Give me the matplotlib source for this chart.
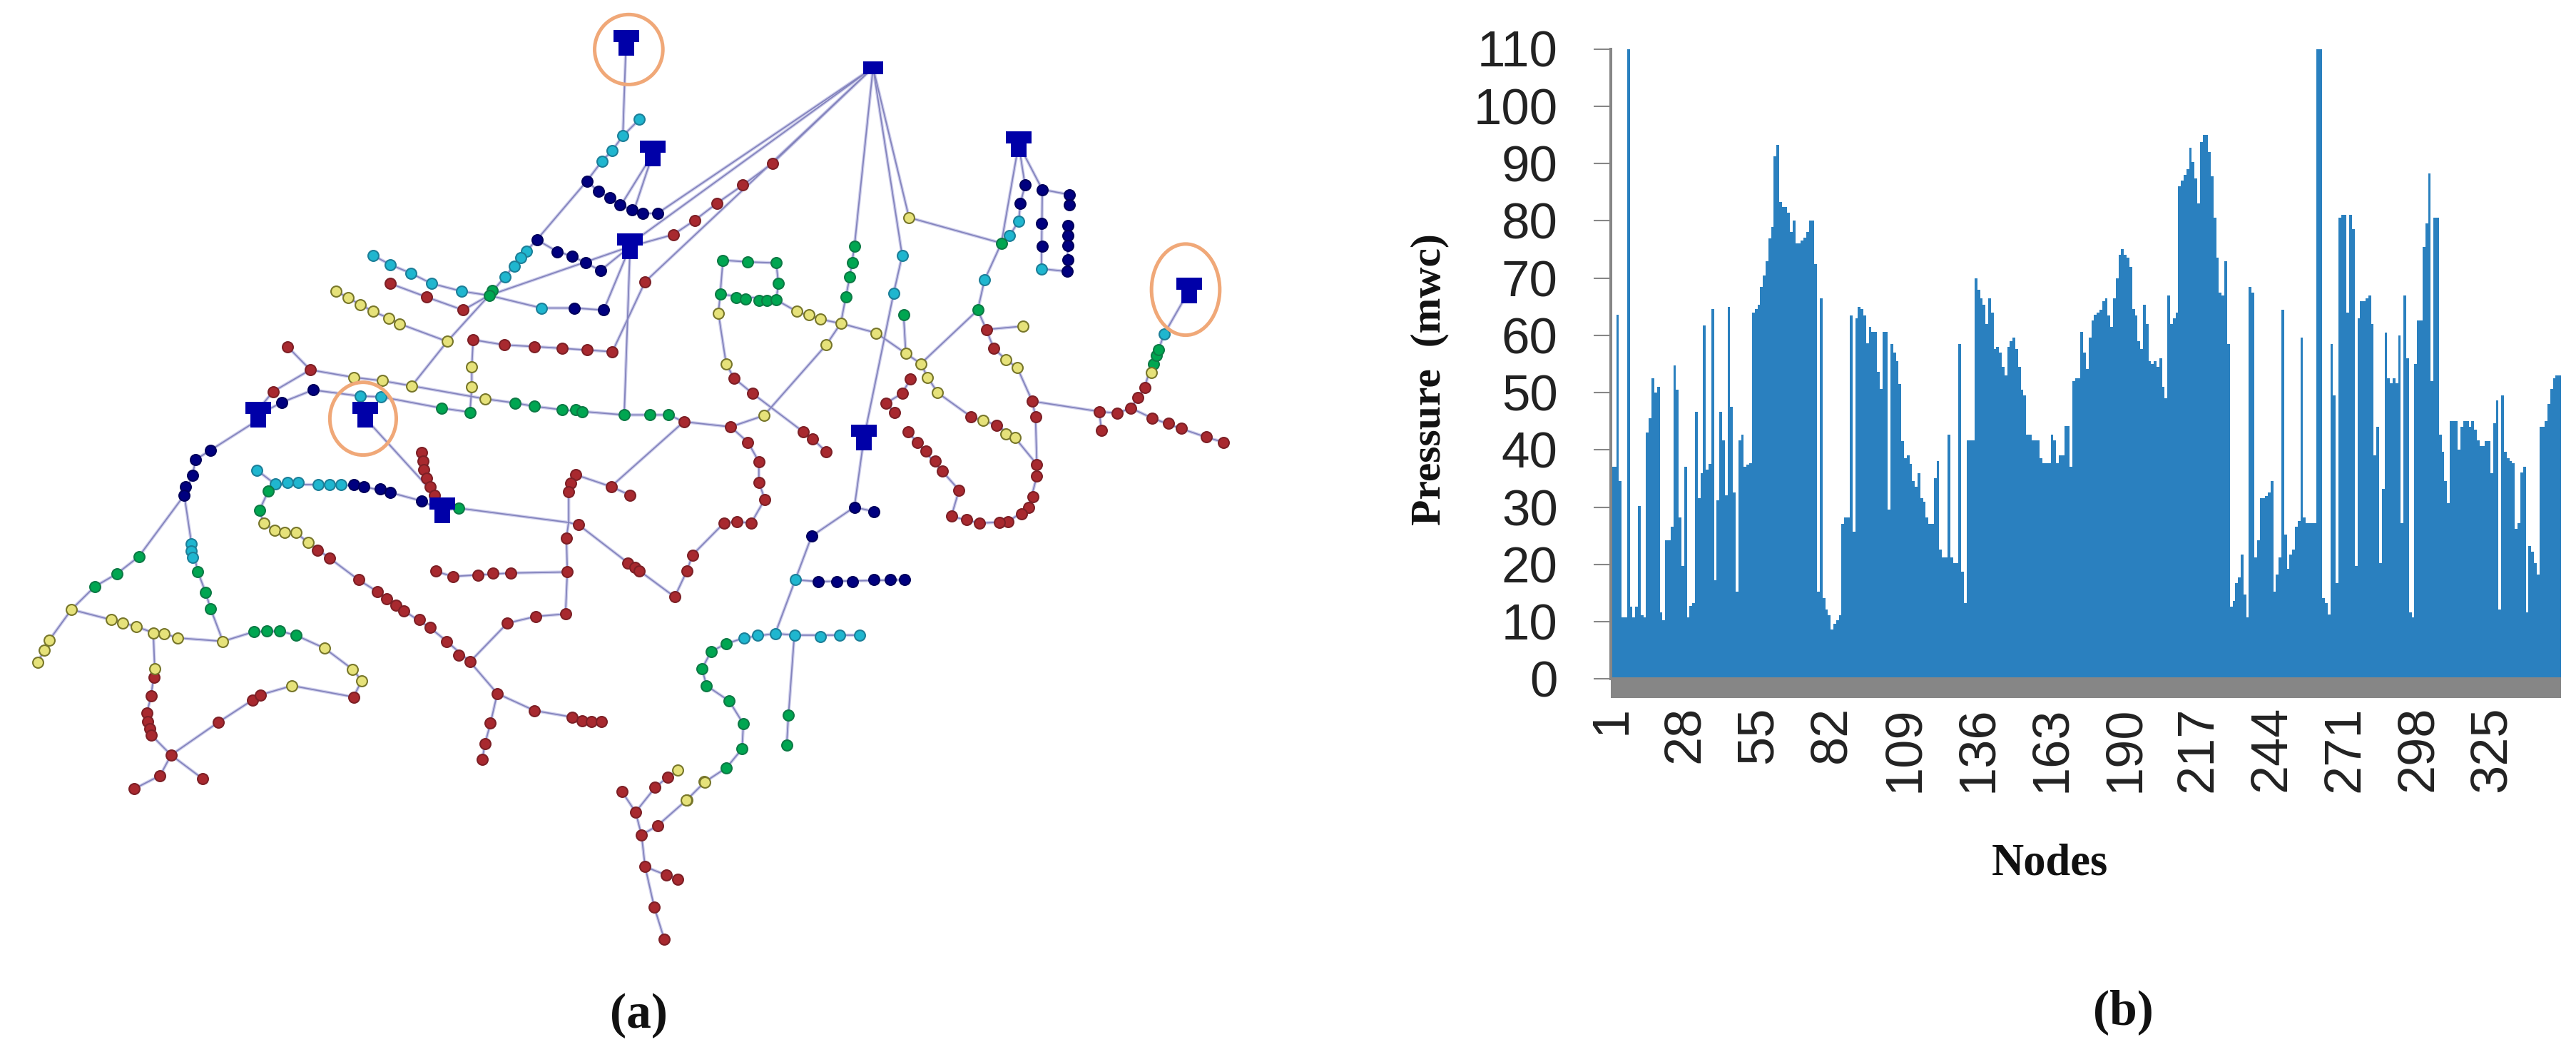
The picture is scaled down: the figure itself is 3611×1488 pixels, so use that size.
import numpy as np
import matplotlib
matplotlib.use("Agg")
import matplotlib.pyplot as plt
from matplotlib.patches import Ellipse
from matplotlib.path import Path


W, H = 3612, 1488

# ── panel (b): pressure per node ─────────────────────────────────────────────
pressure_a = [37.1, 37.1, 63.6, 34.6, 10.8, 10.8, 110, 12.7, 10.8, 12.7,
              30.2, 11.2, 10.8, 43, 45.5, 52.5, 50, 51, 11.7, 10.3,
              24.2, 24.2, 26.6, 54.7, 50.5, 28.2, 19.8, 37.1, 10.8, 12.8,
              13.3, 46.6, 31.6, 36, 61.7, 36.6, 37.5, 64.6, 17.3, 31.2,
              46.6, 41.7, 32.1, 65, 47.5, 32.6, 15.2, 41.7, 42.7, 37.1,
              37.4, 37.7, 64, 64.6, 65.4, 68.5, 70.4, 72.9, 76.9, 78.9,
              91.3, 93.3, 83.3, 82.4, 82.4, 81.4, 78, 80, 76, 76,
              76.5, 77, 78, 80, 80, 72.4, 15.2, 66.5, 14.2, 12.2,
              11.2, 8.7, 9.7, 10.3, 11.2, 27.1, 28.2]
pressure_b = [28.2, 63.5, 25.7, 63, 65, 64.6, 63.5, 58.6, 61.5, 60.6,
              60.6, 53.6, 50.6, 60.6, 60.6, 29.6, 58.5, 57, 55.5, 51.5,
              41.6, 38.6, 39.1, 37.5, 34.6, 33.6, 36, 31.6, 31, 28.2,
              27.1, 27.1, 35.1, 38, 22.6, 21.2, 21.2, 42.7, 21.2, 20.2,
              20.2, 58.5, 18.7, 13.3, 41.7, 41.7, 41.7, 70, 68, 66.5,
              65.4, 62, 66.5, 64, 57.6, 58, 57, 54.5, 53, 58,
              59, 59.6, 57.6, 54.5, 50.5, 49.5, 42.7, 42.7, 41.7, 41.7,
              41.7, 38.6, 37.7, 37.7, 37.7, 42.7, 41.7, 37.7, 39.1, 39.1,
              44.1, 44.1, 37.1, 52, 52.5, 52.5, 60.6, 57, 54.1]
pressure_c = [59.6, 62.6, 63.6, 64, 64.5, 66, 66.5, 63.5, 61.5, 66.5,
              70, 74, 75, 74, 73.5, 72, 64.6, 63.5, 59, 57.6,
              65.4, 62, 55.5, 55, 55.5, 54.5, 56, 51, 49, 67,
              62, 63, 64, 86, 87, 88, 89, 92.8, 90.3, 87.4,
              83, 93.8, 95, 95, 92, 87.8, 80.5, 73.5, 67.5, 67,
              73, 58.5, 12.7, 13.7, 16.7, 17.8, 21.8, 14.7, 10.8, 68.5,
              67.5, 21.2, 24.2, 31.6, 31.6, 32, 32.6, 34.6, 15.2, 18.2,
              21.2, 64.5, 25.2, 19.3, 21.8, 22.6, 26.6, 27.6, 59.6, 28.2,
              27.2, 27.2, 27.2, 27.2, 110, 110, 14.2]
pressure_d = [13.3, 11.3, 58.5, 49.5, 16.7, 80.6, 81, 81, 64, 81,
              78.5, 19.8, 63, 66, 66, 66.5, 67, 62, 39, 44,
              20.2, 33.2, 60.5, 52.5, 51.6, 52.5, 51.6, 60, 27.2, 67,
              56, 11.7, 10.8, 55, 62.6, 62.6, 75.4, 79.5, 88.3, 52,
              80.5, 80.5, 42.7, 39.7, 34.6, 30.7, 45, 45, 45, 40,
              44, 45, 45, 44, 45, 43.5, 41.7, 40.7, 40.7, 41.6,
              41.6, 36, 44.7, 48.6, 12.2, 49.5, 39.7, 38.6, 38.1, 37.7,
              26.2, 27.2, 36.1, 37.1, 11.7, 23.2, 22.2, 20.2, 18.2, 44,
              44, 45, 48, 50.6, 52.5, 53, 53]
pressure = pressure_a + pressure_b + pressure_c + pressure_d
nodes = np.arange(1, len(pressure) + 1)
node_ticks = [1, 28, 55, 82, 109, 136, 163, 190, 217, 244, 271, 298, 325]
pressure_ticks = list(range(0, 120, 10))

# ── panel (a): network map. Nodes are kept per quarter of the map ────────────
SHIFT_X, SHIFT_Y = 1411, 1463
SCALE_X, SCALE_Y = 1.568, 2.09

red_tl = [(857, 830), (938, 870), (1018, 908), (1040, 995), (1108, 1010), (1175, 1015), (1235, 1020),
          (1290, 1025), (1346, 1030), (1418, 825), (1480, 687), (1527, 645), (632, 1015), (682, 1083),
          (600, 1147), (1503, 1235), (927, 1325), (930, 1350), (932, 1375), (937, 1400), (945, 1425),
          (955, 1450), (1265, 1390), (1255, 1415), (1250, 1440), (1343, 1425), (1385, 1450), (1272, 1537)]
red_tr = [(287, 478), (222, 542), (165, 595), (195, 1250), (233, 1295), (257, 1352), (257, 1412), (270, 1462),
          (240, 1532), (208, 1527), (180, 1532), (202, 1107), (243, 1152), (355, 1265), (375, 1285), (405, 1323),
          (757, 965), (773, 1020), (858, 1175), (865, 1220), (1005, 1205), (1045, 1210), (1010, 1260),
          (1075, 1195), (1090, 1165), (1105, 1135), (1122, 1225), (1157, 1240), (1185, 1255), (1240, 1280),
          (1278, 1295), (868, 1360), (868, 1395), (860, 1455), (850, 1485), (835, 1505), (805, 1528),
          (785, 1530), (742, 1532), (713, 1522), (680, 1512), (697, 1435), (660, 1380), (645, 1350),
          (625, 1320), (605, 1295), (585, 1265), (590, 1110), (572, 1152), (537, 1180), (555, 1208),
          (723, 1220), (780, 1245)]
red_bl = [(338, 520), (332, 575), (323, 625), (325, 650), (330, 670), (333, 690), (376, 748), (352, 808),
          (295, 847), (445, 817), (480, 652), (555, 587), (572, 572), (777, 578), (698, 148), (725, 172),
          (788, 235), (830, 270), (850, 290), (870, 310), (887, 325), (922, 352), (945, 375), (982, 415),
          (1008, 455), (1033, 475), (1093, 568), (1175, 618), (1258, 637), (1280, 648), (1300, 650),
          (1322, 650), (1078, 655), (1066, 715), (1060, 760), (1115, 362), (1178, 342), (1243, 335),
          (1247, 212), (958, 210), (995, 225), (1050, 222), (1083, 215), (1123, 215), (1245, 112),
          (1380, 185), (1395, 198), (1405, 208), (1483, 285), (1510, 208), (1522, 162), (1367, 855),
          (1397, 915), (1410, 982), (1440, 843), (1468, 812), (1445, 955), (1418, 1075), (1465, 1100),
          (1490, 1112), (1438, 1193), (1460, 1287)]

navy_tl = [(1290, 530), (1315, 560), (1340, 578), (1363, 600), (1390, 615), (1412, 625), (1445, 625),
           (1180, 702), (1225, 737), (1258, 750), (1287, 770), (1320, 792), (1262, 902), (1327, 908),
           (688, 1142), (620, 1178), (463, 1318), (430, 1346), (423, 1392), (408, 1425), (405, 1450),
           (777, 1420), (800, 1425), (835, 1432), (857, 1442), (927, 1467)]
navy_tr = [(842, 542), (832, 595), (880, 555), (940, 570), (940, 600), (878, 655), (880, 722), (937, 660),
           (937, 690), (937, 720), (937, 760), (935, 795), (467, 1485), (510, 1498)]
navy_br = [(373, 107), (388, 240), (428, 240), (463, 240), (510, 235), (546, 235), (578, 235)]

cyan_tl = [(1405, 350), (1369, 398), (1346, 440), (1323, 472), (1157, 735), (1145, 755), (1130, 780),
           (1110, 810), (820, 748), (858, 775), (903, 800), (948, 830), (1015, 853), (1190, 902),
           (792, 1160), (838, 1162), (565, 1377), (605, 1418), (632, 1412), (655, 1412), (700, 1420),
           (725, 1420), (750, 1420)]
cyan_tr = [(572, 748), (553, 860), (828, 648), (808, 690), (753, 820), (878, 787), (1148, 978)]
cyan_bl = [(421, 130), (421, 150), (423, 170)]
cyan_br = [(337, 235), (225, 405), (255, 397), (293, 392), (335, 397), (392, 402), (435, 397), (478, 397)]

green_tl = [(1082, 850), (1075, 865), (970, 1195), (1033, 1207), (1132, 1180), (1175, 1190), (1235, 1200),
            (1265, 1200), (1280, 1205), (1372, 1215), (1428, 1215), (1470, 1215), (590, 1437), (570, 1495),
            (1008, 1488)]
green_tr = [(178, 762), (233, 767), (295, 770), (300, 830), (172, 862), (207, 872), (228, 875), (258, 880),
            (275, 880), (295, 878), (467, 722), (462, 770), (457, 810), (448, 870), (575, 922), (790, 712),
            (738, 908), (1125, 1065), (1130, 1040), (1135, 1025)]
green_bl = [(305, 167), (257, 217), (208, 255), (435, 212), (452, 272), (463, 320), (558, 387), (587, 385),
            (615, 385), (650, 397)]
green_br = [(185, 422), (152, 445), (132, 495), (142, 545), (192, 590), (223, 657), (220, 730), (186, 785),
            (322, 632), (318, 720)]

yellow_tl = [(738, 852), (765, 872), (792, 892), (820, 912), (855, 932), (878, 948), (983, 1000), (1037, 1075),
             (1037, 1132), (1066, 1168), (905, 1130), (840, 1115), (777, 1105)]
yellow_tr = [(587, 637), (168, 917), (185, 1065), (340, 912), (367, 922), (392, 935), (437, 947), (515, 975),
             (405, 1010), (268, 1217), (580, 1035), (613, 1065), (628, 1105), (650, 1150), (750, 1230),
             (800, 1270), (820, 1282), (838, 955), (800, 1053), (825, 1077), (1120, 1090)]
yellow_bl = [(108, 412), (97, 440), (83, 477), (157, 322), (245, 352), (270, 362), (300, 372), (337, 390),
             (360, 392), (390, 405), (490, 415), (340, 495), (713, 435), (775, 497), (795, 530), (642, 545),
             (580, 70), (603, 90), (625, 97), (650, 97), (677, 125), (1490, 793), (1510, 880), (1548, 825)]
yellow_br = [(138, 827), (98, 880)]

tanks = [(1376, 125), (1435, 450), (1385, 722), (567, 1215), (803, 1215), (972, 1495),
         (2239, 422), (2614, 850), (1899, 1282)]
reservoir = [(1919, 198)]
highlights = [(1382, 145, 150, 205), (798, 1226, 146, 213), (2606, 848, 150, 267)]

pipes = [
    [(1376, 125), (1369, 398)],
    [(1405, 350), (1369, 398), (1346, 440), (1323, 472), (1290, 530), (1180, 702), (1157, 735), (1110, 810),
     (1075, 865), (983, 1000), (905, 1130)],
    [(1290, 530), (1315, 560), (1340, 578), (1363, 600), (1390, 615), (1412, 625), (1445, 625), (1919, 198)],
    [(1435, 450), (1370, 590)], [(1435, 450), (1395, 610)],
    [(1919, 198), (1400, 700)],
    [(1919, 198), (1698, 478), (1633, 542), (1576, 595), (1527, 645), (1480, 687), (1385, 722)],
    [(1919, 198), (1418, 825), (1346, 1030)],
    [(1385, 722), (1320, 792), (1287, 770), (1258, 750), (1225, 737), (1180, 702)],
    [(1385, 722), (1075, 865)],
    [(1385, 722), (1327, 908), (1262, 902), (1190, 902), (1075, 865), (1015, 853), (948, 830), (903, 800),
     (858, 775), (820, 748)],
    [(1385, 722), (1372, 1215)],
    [(857, 830), (938, 870), (1018, 908), (1075, 865)],
    [(738, 852), (765, 872), (792, 892), (820, 912), (855, 932), (878, 948), (983, 1000)],
    [(1040, 995), (1108, 1010), (1175, 1015), (1235, 1020), (1290, 1025), (1346, 1030)],
    [(1040, 995), (1037, 1075), (1037, 1132), (1033, 1207)],
    [(838, 1162), (970, 1195), (1033, 1207)],
    [(905, 1130), (1066, 1168), (1132, 1180), (1175, 1190), (1235, 1200), (1280, 1205), (1372, 1215), (1428, 1215),
     (1470, 1215), (1503, 1235), (1606, 1250), (1679, 1217), (1816, 1010), (1848, 947)],
    [(682, 1083), (777, 1105), (840, 1115), (905, 1130)],
    [(632, 1015), (682, 1083), (600, 1147), (567, 1200)],
    [(567, 1215), (620, 1178), (688, 1142), (792, 1160), (838, 1162)],
    [(567, 1230), (463, 1318), (430, 1346), (423, 1392), (405, 1450), (305, 1630), (257, 1680), (208, 1718),
     (157, 1785), (108, 1875), (83, 1940)],
    [(405, 1450), (421, 1593), (435, 1675), (452, 1735), (463, 1783), (490, 1878)],
    [(157, 1785), (245, 1815), (300, 1835), (337, 1853), (360, 1855), (390, 1868), (490, 1878), (558, 1850),
     (615, 1848), (650, 1860), (713, 1898), (775, 1960), (795, 1993), (777, 2041), (642, 2008), (572, 2035),
     (555, 2050), (480, 2115), (376, 2211), (352, 2271), (295, 2310)],
    [(376, 2211), (445, 2280)],
    [(337, 1853), (340, 1958), (332, 2038), (323, 2088), (333, 2153), (376, 2211)],
    [(803, 1225), (950, 1440)],
    [(927, 1325), (955, 1450), (972, 1495)],
    [(565, 1377), (605, 1418), (750, 1420), (800, 1425), (857, 1442), (927, 1467), (972, 1495)],
    [(605, 1418), (590, 1437), (570, 1495), (580, 1533), (603, 1553), (650, 1560), (677, 1588), (725, 1635),
     (788, 1698), (830, 1733), (887, 1788), (945, 1838), (982, 1878), (1033, 1938), (1093, 2031), (1175, 2081),
     (1258, 2100), (1322, 2113)],
    [(1093, 2031), (1078, 2118), (1066, 2178), (1060, 2223)],
    [(1033, 1938), (1115, 1825), (1178, 1805), (1243, 1798), (1247, 1675), (1245, 1575), (1250, 1527),
     (1250, 1440), (1265, 1390), (1343, 1425), (1385, 1450)],
    [(1343, 1425), (1503, 1235)],
    [(958, 1673), (995, 1688), (1123, 1678), (1247, 1675)],
    [(972, 1495), (1008, 1488), (1250, 1530), (1273, 1538), (1380, 1648), (1405, 1671), (1483, 1748), (1510, 1671),
     (1522, 1625), (1591, 1532), (1619, 1527), (1651, 1532), (1681, 1462), (1668, 1412), (1668, 1352), (1644, 1295),
     (1606, 1250)],
    [(1583, 862), (1579, 917), (1596, 1065), (1613, 1107), (1654, 1152), (1766, 1265), (1786, 1285), (1816, 1323)],
    [(1589, 762), (1644, 767), (1706, 770), (1711, 830), (1706, 878), (1583, 862), (1589, 762)],
    [(1706, 878), (1751, 912), (1803, 935), (1848, 947), (1926, 975), (1991, 1035), (2024, 1065), (2039, 1105),
     (2061, 1150), (2134, 1220), (2191, 1245), (2231, 1282), (2279, 1360)],
    [(1848, 947), (1859, 870), (1868, 810), (1878, 722), (1919, 198)],
    [(1919, 198), (1983, 748), (1964, 860), (1899, 1282)],
    [(1919, 198), (1998, 637), (2201, 712)],
    [(2239, 422), (2201, 712), (2164, 820), (2149, 908), (2024, 1065)],
    [(2239, 422), (2253, 542), (2243, 595), (2239, 648), (2219, 690), (2201, 712)],
    [(2239, 422), (2291, 555), (2351, 570), (2351, 600)],
    [(2291, 555), (2289, 787), (2346, 795), (2348, 660)],
    [(1986, 922), (1991, 1035)],
    [(2149, 908), (2168, 965), (2249, 955)],
    [(2168, 965), (2184, 1020), (2211, 1053), (2236, 1077), (2269, 1175), (2276, 1220), (2279, 1360), (2279, 1395),
     (2261, 1485), (2216, 1528), (2153, 1532), (2091, 1512), (2108, 1435), (2071, 1380), (1996, 1265)],
    [(2001, 1110), (1983, 1152), (1948, 1180), (1966, 1208)],
    [(2269, 1175), (2416, 1205), (2456, 1210), (2486, 1195), (2516, 1135), (2531, 1065), (2546, 1025), (2559, 978),
     (2614, 850)],
    [(2416, 1205), (2421, 1260)],
    [(2486, 1195), (2533, 1225), (2596, 1255), (2651, 1280), (2689, 1295)],
    [(1899, 1282), (1878, 1485), (1784, 1570), (1748, 1698), (1704, 1855)],
    [(1878, 1485), (1921, 1498)],
    [(1748, 1698), (1799, 1703), (1989, 1698)],
    [(1445, 2418), (1509, 2343), (1549, 2290), (1597, 2248), (1631, 2193), (1634, 2120), (1603, 2053), (1553, 2008),
     (1543, 1958), (1563, 1908), (1596, 1885), (1636, 1868), (1704, 1855), (1746, 1860), (1889, 1860)],
    [(1746, 1860), (1733, 2095), (1729, 2183)],
    [(1367, 2318), (1397, 2378), (1410, 2445), (1418, 2538), (1438, 2656), (1460, 2750)],
    [(1397, 2378), (1440, 2306), (1468, 2275), (1490, 2256)],
    [(1410, 2445), (1445, 2418)],
    [(1418, 2538), (1465, 2563), (1490, 2575)],
]


def join_quarters(tl=(), tr=(), bl=(), br=()):
    parts = [np.array(q, dtype=float).reshape(-1, 2) + off
             for q, off in ((tl, (0, 0)), (tr, (SHIFT_X, 0)), (bl, (0, SHIFT_Y)), (br, (SHIFT_X, SHIFT_Y)))]
    return np.vstack(parts)


def px_x(x):
    return x / W


def px_y(y):
    return 1 - y / H


fig = plt.figure(figsize=(W / 100, H / 100), dpi=100, facecolor="white")

# panel (a)
ax_map = fig.add_axes([0, 0, 1, 1])
ax_map.set_xlim(0, W * SCALE_X)
ax_map.set_ylim(H * SCALE_Y, 0)
ax_map.axis("off")

for pipe in pipes:
    xs, ys = zip(*pipe)
    ax_map.plot(xs, ys, color="#cfcfec", lw=3.2, solid_joinstyle="round", zorder=1)
    ax_map.plot(xs, ys, color="#8484bd", lw=1.3, solid_joinstyle="round", zorder=1.1)

groups = [
    (join_quarters(red_tl, red_tr, red_bl), "#a8292f", "#7d2026"),
    (join_quarters(navy_tl, navy_tr, (), navy_br), "#00007f", "#00005c"),
    (join_quarters(cyan_tl, cyan_tr, cyan_bl, cyan_br), "#1fb6cf", "#1c7f98"),
    (join_quarters(green_tl, green_tr, green_bl, green_br), "#00a651", "#0d7a45"),
    (join_quarters(yellow_tl, yellow_tr, yellow_bl, yellow_br), "#e6e27a", "#77762a"),
]
for pts, face, edge in groups:
    ax_map.scatter(pts[:, 0], pts[:, 1], s=115, color=face, edgecolors=edge, linewidths=1.5, zorder=2)

tank_marker = Path([(-1, 1), (1, 1), (1, 0.05), (0.6, 0.05), (0.6, -1), (-0.6, -1), (-0.6, 0.05), (-1, 0.05), (-1, 1)],
                   closed=True)
res_marker = Path([(-1, 0.66), (1, 0.66), (1, -0.66), (-1, -0.66), (-1, 0.66)], closed=True)
ax_map.scatter(*zip(*tanks), s=640, marker=tank_marker, color="#0000a8", linewidths=0, zorder=3)
ax_map.scatter(*zip(*reservoir), s=420, marker=res_marker, color="#0000a8", linewidths=0, zorder=3)

for cx, cy, w, h in highlights:
    ax_map.add_patch(Ellipse((cx, cy), w, h, fill=False, ec="#f0a878", lw=3.6, zorder=4))

# panel (b)
ax = fig.add_axes([px_x(2258), px_y(951.5), 1332 / W, 883 / H])
ax.bar(nodes, pressure, width=1.0, color="#2a80bf", linewidth=0, antialiased=False, zorder=2)
ax.axhspan(-3.25, 0.35, color="#868686", lw=0, clip_on=False, zorder=3)
ax.set_xlim(0.5, len(pressure) + 0.5)
ax.set_ylim(0, 110)
ax.set_yticks(pressure_ticks)
ax.set_xticks(node_ticks)
ax.set_xticklabels([str(n) for n in node_ticks], rotation=90)
ax.tick_params(axis="y", length=17.5, width=1.5, color="#868686", pad=36, labelsize=51, labelcolor="#222222")
ax.tick_params(axis="x", length=0, pad=27, labelsize=52, labelcolor="#222222")
for lab in ax.get_xticklabels() + ax.get_yticklabels():
    lab.set_fontfamily("Liberation Sans")
for side in ("top", "right", "bottom"):
    ax.spines[side].set_visible(False)
ax.spines["left"].set_color("#868686")
ax.spines["left"].set_linewidth(2.9)
ax.patch.set_alpha(0)

serif = dict(family="Liberation Serif", fontweight="bold", color="#111111", ha="center", va="center")
fig.text(px_x(2004), px_y(532), "Pressure  (mwc)", rotation=90, fontsize=43, **serif)
fig.text(px_x(2873), px_y(1211), "Nodes", fontsize=45, **serif)
fig.text(px_x(2976), px_y(1418), "(b)", fontsize=50, **serif)
fig.text(px_x(895), px_y(1423), "(a)", fontsize=50, **serif)

fig.savefig("out.png", dpi=100)
